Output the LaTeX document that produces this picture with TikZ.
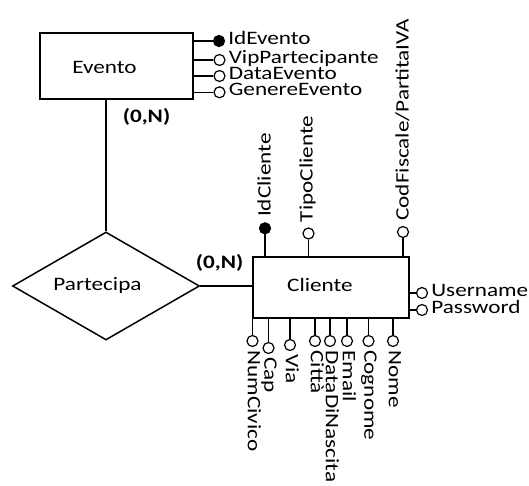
\documentclass[tikz,border=0pt]{standalone}
\usepackage{fontspec}
\setmainfont[FakeStretch=1.22]{Carlito}
\usetikzlibrary{shapes.geometric,calc}
\begin{document}
\begin{tikzpicture}[x=1pt,y=-1pt,
  line width=1.5pt,
  every node/.style={font=\fontsize{19}{22}\selectfont},
  entity/.style={draw, rectangle, inner sep=0pt},
  relation/.style={draw, diamond, inner sep=0pt},
  attr/.style={draw, circle, fill=white, inner sep=0pt, minimum size=11pt, line width=1.2pt},
  keyattr/.style={attr, fill=black},
  lbl/.style={inner xsep=2.5pt, inner ysep=0.5pt, text height=0.63em, text depth=0pt},
  rlbl/.style={lbl, anchor=west},
  ulbl/.style={lbl, anchor=west, rotate=90},
  dlbl/.style={lbl, anchor=west, rotate=-90},
  card/.style={font=\fontsize{19}{22}\selectfont\bfseries}
]
\useasboundingbox (0,0) rectangle (529,486);

% entities and relationship
\node[entity, minimum width=153pt, minimum height=66pt] (evento) at (116.5,66.2) {};
\node at (104.5,67) {Evento};
\node[relation, minimum width=187pt, minimum height=108pt] (partecipa) at (106,286) {};
\node at (97.5,285) {Partecipa};
\node[entity, minimum width=156pt, minimum height=61pt] (cliente) at (331,287.5) {};
\node at (320,285) {Cliente};

% relationship links and cardinalities
\draw (partecipa.north |- evento.south) -- (partecipa.north);
\draw (partecipa.east) -- (cliente.west |- partecipa.east);
\node[card] at (146.5,117) {(0,N)};
\node[card] at (219.5,263) {(0,N)};

% attributes of Evento
\node[keyattr] (idevento) at (219,41) {};
\node[attr] (vip) at (219.5,60) {};
\node[attr] (dataev) at (219.5,76) {};
\node[attr] (genere) at (219.5,92.3) {};
\foreach \a in {idevento,vip,dataev,genere}
  \draw (\a) -- (\a -| evento.east);
\node[rlbl] at (idevento.east) {IdEvento};
\node[rlbl] at (vip.east) {VipPartecipante};
\node[rlbl] at (dataev.east) {DataEvento};
\node[rlbl] at (genere.east) {GenereEvento};

% attributes of Cliente: top side
\node[keyattr] (idcliente) at (265,228.3) {};
\node[attr] (tipo) at (308.5,233.5) {};
\node[attr] (codfisc) at (403,232) {};
\foreach \a in {idcliente,tipo,codfisc}
  \draw (\a) -- (\a |- cliente.north);
\node[ulbl] at ($(idcliente.north)+(2.5,-2)$) {IdCliente};
\node[ulbl] at ($(tipo.north)+(1,-2)$) {TipoCliente};
\node[ulbl] at ($(codfisc.north)+(2.5,-2)$) {CodFiscale/PartitaIVA};

% attributes of Cliente: right side
\node[attr] (user) at (422,293) {};
\node[attr] (pass) at (422,310) {};
\foreach \a in {user,pass}
  \draw (\a) -- (\a -| cliente.east);
\node[rlbl] at (user.east) {Username};
\node[rlbl] at (pass.east) {Password};

% attributes of Cliente: bottom side
\node[attr] (numciv) at (252.5,341) {};
\node[attr] (cap) at (268.5,348) {};
\node[attr] (via) at (290,345) {};
\node[attr] (citta) at (315,341) {};
\node[attr] (nascita) at (330,341) {};
\node[attr] (email) at (347,341) {};
\node[attr] (cognome) at (368.5,341) {};
\node[attr] (nome) at (393,341) {};
\foreach \a in {numciv,cap,via,citta,nascita,email,cognome,nome}
  \draw (\a) -- (\a |- cliente.south);
\node[dlbl] at ($(numciv.south)+(-1.5,0)$) {NumCivico};
\node[dlbl] at ($(cap.south)+(-1,0)$) {Cap};
\node[dlbl] at ($(via.south)+(-1,0)$) {Via};
\node[dlbl] at ($(citta.south)+(-1,0)$) {Città};
\node[dlbl] at ($(nascita.south)+(-1,0)$) {DataDiNascita};
\node[dlbl] at ($(email.south)+(-1,0)$) {Email};
\node[dlbl] at ($(cognome.south)+(-1,0)$) {Cognome};
\node[dlbl] at ($(nome.south)+(-1,0)$) {Nome};
\end{tikzpicture}
\end{document}
